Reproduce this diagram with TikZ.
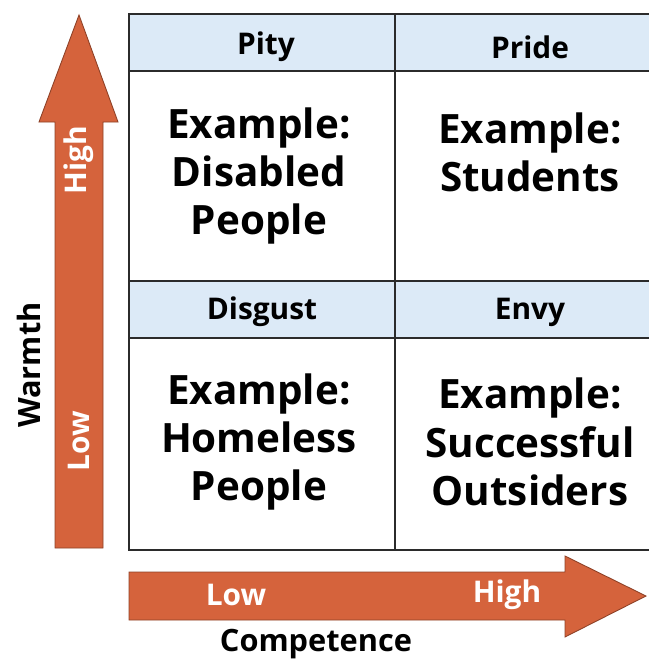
\documentclass[tikz,border=0pt]{standalone}
\usepackage{fontspec}
\setmainfont{Open Sans}
\usetikzlibrary{positioning}

\definecolor{arrowfill}{HTML}{D5633C}
\definecolor{arrowline}{HTML}{8E4127}
\definecolor{headfill}{HTML}{DCEAF7}
\definecolor{gridline}{HTML}{2B2B2B}

\tikzset{
  bigarrow/.style={fill=arrowfill, draw=arrowline, line width=0.5pt},
  gridbox/.style={draw=gridline, line width=0.8pt},
  header/.style={font=\bfseries\fontsize{17}{20}\selectfont},
  example/.style={font=\bfseries\fontsize{23}{27.5}\selectfont, align=center},
  arrowtext/.style={text=white, font=\bfseries\fontsize{17}{20}\selectfont},
  axislabel/.style={font=\bfseries\fontsize{17.5}{21}\selectfont},
}

\begin{document}
\begin{tikzpicture}[x=0.02cm, y=-0.02cm]
  \useasboundingbox (0,0) rectangle (649,660);

  % Headers
  \fill[headfill] (129,14) rectangle (655,71);
  \fill[headfill] (129,281) rectangle (655,338);

  % Grid
  \draw[gridbox] (129,14) rectangle (655,550);
  \draw[gridbox] (395,14) -- (395,550);
  \draw[gridbox] (129,71) -- (655,71);
  \draw[gridbox] (129,281) -- (655,281);
  \draw[gridbox] (129,338) -- (655,338);

  % Arrows
  \draw[bigarrow] (55,548) -- (55,122) -- (39,122) -- (79,15)
    -- (118,122) -- (103,122) -- (103,548) -- cycle;
  \draw[bigarrow] (129,572) -- (565,572) -- (565,556) -- (646,596)
    -- (565,637) -- (565,620) -- (129,620) -- cycle;

  % Cell labels
  \node[header] (pity) at (266,47) {Pity};
  \node[header] (pride) at (530,47) {Pride};
  \node[header] (disgust) at (262,312) {Disgust};
  \node[header] (envy) at (530,312) {Envy};

  \node[example] (disabled) at (259,176) {Example:\\Disabled\\People};
  \node[example] (students) at (530,152) {Example:\\Students};
  \node[example] (homeless) at (259,442) {Example:\\Homeless\\People};
  \node[example] (outsiders) at (530,442) {Example:\\Successful\\Outsiders};

  % Axis labels
  \node[arrowtext, rotate=90] (whigh) at (79,160) {High};
  \node[arrowtext, rotate=90] (wlow) at (79,441) {Low};
  \node[axislabel, rotate=90] (warmth) at (29,365) {Warmth};
  \node[arrowtext] (clow) at (236,595) {Low};
  \node[arrowtext] (chigh) at (507,595) {High};
  \node[axislabel] (competence) at (316,644) {Competence};
\end{tikzpicture}
\end{document}
